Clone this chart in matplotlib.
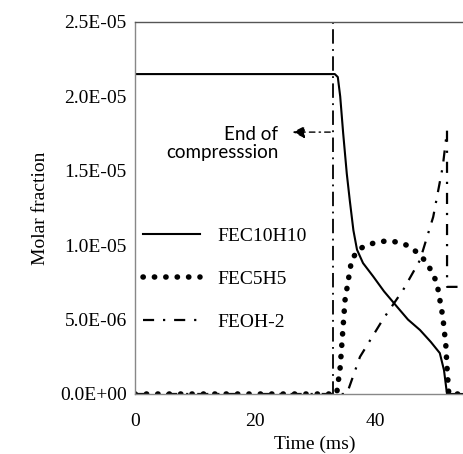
import matplotlib.pyplot as plt

# time (ms) and molar fraction for each species
t_c10h10 = [0, 33.3, 33.8, 34.2, 34.7, 35.3, 35.8, 36.4, 37.0, 38.0, 39.7, 41.5, 43.7, 45.5, 47.5, 49.3, 50.8, 51.5, 52.0, 60]
y_c10h10 = [21.5e-6, 21.5e-6, 21.3e-6, 20.0e-6, 17.5e-6, 14.8e-6, 13.0e-6, 11.0e-6, 9.7e-6, 8.8e-6, 7.9e-6, 6.9e-6, 5.85e-6, 5.0e-6, 4.3e-6, 3.5e-6, 2.75e-6, 1.6e-6, 0, 0]

t_c5h5 = [0, 33.6, 34.2, 35.0, 36.1, 37.2, 38.6, 40.3, 42.2, 43.8, 45.3, 47.1, 48.7, 50.3, 51.3, 51.8, 52.0, 52.3, 60]
y_c5h5 = [0, 0, 1.8e-6, 6.3e-6, 9.0e-6, 9.7e-6, 10.0e-6, 10.2e-6, 10.3e-6, 10.2e-6, 10.0e-6, 9.5e-6, 8.8e-6, 7.5e-6, 5.2e-6, 3.3e-6, 1.8e-6, 0, 0]

t_oh = [0, 35.3, 37.5, 41.3, 44.7, 47.5, 49.7, 51.3, 52.0, 52.01, 60]
y_oh = [0, 0, 2.5e-6, 5.0e-6, 7.0e-6, 9.0e-6, 11.9e-6, 15.3e-6, 17.7e-6, 7.2e-6, 7.2e-6]

end_of_compression = 33.0
y_ticks = [0, 5e-6, 10e-6, 15e-6, 20e-6, 25e-6]
y_tick_labels = ["0.0E+00", "5.0E-06", "1.0E-05", "1.5E-05", "2.0E-05", "2.5E-05"]
x_ticks = [0, 20, 40]

plt.rcParams['font.family'] = ['Liberation Serif', 'DejaVu Serif']
fig = plt.figure(figsize=(4.64, 4.54), dpi=100)
ax = fig.add_axes([135 / 464, 60 / 454, 360 / 464, 372 / 454])

ax.plot(t_c10h10, y_c10h10, color='black', lw=1.5, label='FEC10H10')
ax.plot(t_c5h5, y_c5h5, color='black', lw=4, linestyle=(0, (0.05, 2.0)),
        dash_capstyle='round', label='FEC5H5')
ax.plot(t_oh, y_oh, color='black', lw=1.6, linestyle=(0, (5, 4, 1, 4)), label='FEOH-2')

# end of compression marker, drawn top-down so the pattern starts with a dot
ax.plot([end_of_compression, end_of_compression], [25e-6, 0], color='black', lw=1.3,
        linestyle=(0, (1, 3, 8, 3)), clip_on=False)
ax.annotate('', xy=(25.8, 17.6e-6), xytext=(end_of_compression, 17.6e-6),
            arrowprops=dict(arrowstyle='-|>', color='black', lw=1.0,
                            linestyle=(0, (4, 3, 1, 3)), mutation_scale=18))
ax.text(23.9, 16.85e-6, 'End of\ncompresssion', family=['Lato', 'DejaVu Sans'],
        fontsize=13.5, ha='right', va='center', multialignment='right', linespacing=1.05)

ax.set_xlim(0, 60)
ax.set_ylim(0, 25e-6)
ax.set_xticks(x_ticks)
ax.set_yticks(y_ticks)
ax.set_yticklabels(y_tick_labels)
ax.tick_params(length=0, labelsize=14, pad=14)
ax.tick_params(axis='y', pad=6)
for s in ax.spines.values():
    s.set_color('#888888')
    s.set_linewidth(1.0)
ax.spines['top'].set_color('#555555')

ax.set_xlabel('Time (ms)', fontsize=14, labelpad=4)
ax.set_ylabel('Molar fraction', fontsize=14, labelpad=8)

ax.legend(loc='upper left', bbox_to_anchor=(-0.025, 0.495), frameon=False, fontsize=14,
          handlelength=2.9, labelspacing=1.3, handletextpad=0.9)

fig.savefig('out.png', dpi=100)
